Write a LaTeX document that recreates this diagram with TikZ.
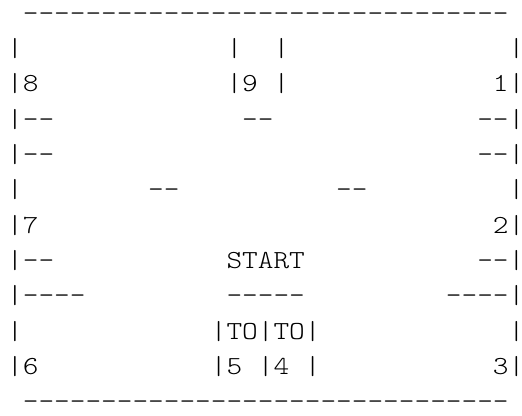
\documentclass[tikz,border=0pt]{standalone}
\usepackage{fontspec}
% a light typewriter face, widened so that one character fills one cell
\setmonofont[FakeStretch=1.148]{lmmonolt10-regular.otf}
\tikzset{
  txt/.style={anchor=base west, inner sep=0pt, outer sep=0pt,
    font=\ttfamily\fontsize{19.5pt}{24pt}\selectfont, text=black},
  edgebar/.style={txt, anchor=base}
}
% one character cell is 15.67 units wide, one text line is 35.3 units high
\newcommand{\cellat}[4]{\node[txt] (#1) at ({7.17+15.67*#2},{21.4+35.3*#3}) {#4};}
% a single bar centred on its cell, taking no width (right-hand edge)
\newcommand{\barat}[3]{\node[edgebar] (#1) at ({15+15.67*#2},{21.4+35.3*#3}) {\makebox[0pt]{|}};}
\begin{document}
\begin{tikzpicture}[x=0.75pt,y=-0.75pt]
\useasboundingbox (0,0) rectangle (522,416);
% top edge
\cellat{top}{1}{0}{-------------------------------}
% line 1
\cellat{la}{0}{1}{|}
\cellat{lb}{14}{1}{|}
\cellat{lc}{17}{1}{|}
\barat{ld}{32}{1}
% line 2
\cellat{eight}{0}{2}{|8}
\cellat{nine}{14}{2}{|9}
\cellat{ninebar}{17}{2}{|}
\cellat{one}{31}{2}{1}
\barat{onebar}{32}{2}
% line 3
\cellat{ma}{0}{3}{|--}
\cellat{mb}{15}{3}{--}
\cellat{mc}{30}{3}{--}
\barat{mcbar}{32}{3}
% line 4
\cellat{na}{0}{4}{|--}
\cellat{nb}{30}{4}{--}
\barat{nbbar}{32}{4}
% line 5
\cellat{oa}{0}{5}{|}
\cellat{ob}{9}{5}{--}
\cellat{oc}{21}{5}{--}
\barat{od}{32}{5}
% line 6
\cellat{seven}{0}{6}{|7}
\cellat{two}{31}{6}{2}
\barat{twobar}{32}{6}
% line 7
\cellat{pa}{0}{7}{|--}
\cellat{start}{14}{7}{START}
\cellat{pc}{30}{7}{--}
\barat{pcbar}{32}{7}
% line 8
\cellat{qa}{0}{8}{|----}
\cellat{qb}{14}{8}{-----}
\cellat{qc}{28}{8}{----}
\barat{qcbar}{32}{8}
% line 9
\cellat{ra}{0}{9}{|}
\cellat{to}{13}{9}{|TO|TO|}
\barat{rc}{32}{9}
% line 10
\cellat{six}{0}{10}{|6}
\cellat{five}{13}{10}{|5}
\cellat{four}{16}{10}{|4}
\cellat{fourbar}{19}{10}{|}
\cellat{three}{31}{10}{3}
\barat{threebar}{32}{10}
% bottom edge
\cellat{bottom}{1}{11}{-------------------------------}
\end{tikzpicture}
\end{document}
